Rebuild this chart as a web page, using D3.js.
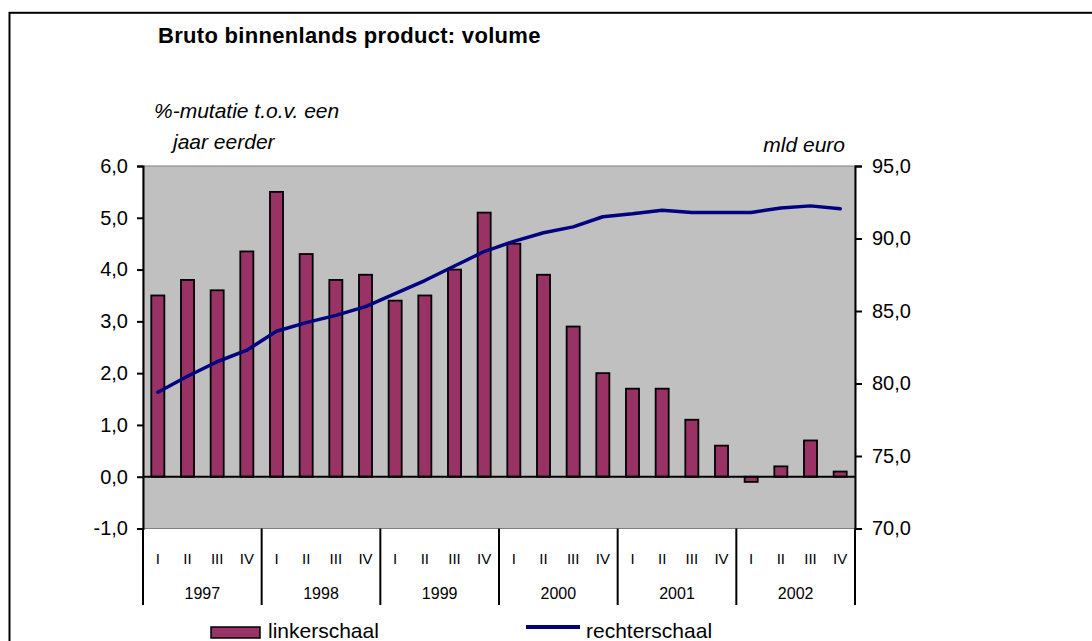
<!DOCTYPE html>
<html>
<head>
<meta charset="utf-8">
<script src="https://cdn.jsdelivr.net/npm/d3@7"></script>
<style>
  body { margin: 0; background: #fff; }
  svg text { font-family: "Liberation Sans", Arial, sans-serif; fill: #000; }
</style>
</head>
<body>
<div id="chart"></div>
<script>
const years = ['1997', '1998', '1999', '2000', '2001', '2002'];
const quarters = ['I', 'II', 'III', 'IV'];

// %-mutatie t.o.v. een jaar eerder (linkerschaal)
const growth = [
    3.5, 3.8, 3.6, 4.35,
    5.5, 4.3, 3.8, 3.9,
    3.4, 3.5, 4.0, 5.1,
    4.5, 3.9, 2.9, 2.0,
    1.7, 1.7, 1.1, 0.6,
    -0.1, 0.2, 0.7, 0.1
];

// mld euro (rechterschaal)
const volume = [
    79.4, 80.5, 81.5, 82.3,
    83.6, 84.2, 84.7, 85.3,
    86.2, 87.1, 88.1, 89.1,
    89.8, 90.4, 90.8, 91.5,
    91.7, 91.95, 91.8, 91.8,
    91.8, 92.1, 92.25, 92.05
];

const leftTicks = [-1, 0, 1, 2, 3, 4, 5, 6];
const rightTicks = [70, 75, 80, 85, 90, 95];

const keys = [];
years.forEach(y => quarters.forEach(q => keys.push(y + '-' + q)));

const W = 1092, H = 641;
const plot = { left: 143, right: 855, top: 166, bottom: 528.5 };

const svg = d3.select("#chart").append("svg")
    .attr("width", W)
    .attr("height", H);

// outer frame
svg.append("rect")
    .attr("x", 9.5)
    .attr("y", 12.8)
    .attr("width", W + 20)
    .attr("height", H + 20)
    .attr("fill", "none")
    .attr("stroke", "#000")
    .attr("stroke-width", 2);

const x = d3.scaleBand()
    .domain(keys)
    .range([plot.left, plot.right])
    .paddingInner(0.56)
    .paddingOuter(0.28);

const yL = d3.scaleLinear().domain([-1, 6]).range([plot.bottom, plot.top]);
const yR = d3.scaleLinear().domain([70, 95]).range([plot.bottom, plot.top]);

// plot area
svg.append("rect")
    .attr("x", plot.left)
    .attr("y", plot.top)
    .attr("width", plot.right - plot.left)
    .attr("height", plot.bottom - plot.top)
    .attr("fill", "#c0c0c0")
    .attr("stroke", "#808080")
    .attr("stroke-width", 1);

// bars
svg.append("g").selectAll("rect")
    .data(growth)
  .enter().append("rect")
    .attr("x", (d, i) => x(keys[i]))
    .attr("width", x.bandwidth())
    .attr("y", d => yL(Math.max(0, d)))
    .attr("height", d => Math.abs(yL(d) - yL(0)))
    .attr("fill", "#993366")
    .attr("stroke", "#000")
    .attr("stroke-width", 1.8);

// zero line
svg.append("line")
    .attr("x1", plot.left).attr("x2", plot.right)
    .attr("y1", yL(0)).attr("y2", yL(0))
    .attr("stroke", "#000")
    .attr("stroke-width", 2);

// volume line
const line = d3.line()
    .x((d, i) => x(keys[i]) + x.bandwidth() / 2)
    .y(d => yR(d));

svg.append("path")
    .datum(volume)
    .attr("d", line)
    .attr("fill", "none")
    .attr("stroke", "#000080")
    .attr("stroke-width", 3.5)
    .attr("stroke-linejoin", "round")
    .attr("stroke-linecap", "round");

// axes, decimal comma and plain hyphen for negatives
const fmt = d3.format(".1f");
const comma = d => fmt(d).replace('.', ',').replace('\u2212', '-');

const axL = svg.append("g")
    .attr("transform", "translate(" + plot.left + ",0)")
    .call(d3.axisLeft(yL).tickValues(leftTicks).tickSize(6).tickPadding(9).tickFormat(comma));

const axR = svg.append("g")
    .attr("transform", "translate(" + plot.right + ",0)")
    .call(d3.axisRight(yR).tickValues(rightTicks).tickSize(7).tickPadding(10).tickFormat(comma));

[axL, axR].forEach(ax => {
    ax.select(".domain").attr("stroke", "#000").attr("stroke-width", 2);
    ax.selectAll(".tick line").attr("stroke", "#000").attr("stroke-width", 2);
    ax.selectAll(".tick text")
        .attr("font-size", 20)
        .attr("font-family", "Liberation Sans, Arial, sans-serif")
        .attr("fill", "#000");
});

// category axis: year separators and labels
const step = x.step();
const sepY2 = 605;
d3.range(years.length + 1).forEach(k => {
    const xs = plot.left + k * 4 * step;
    svg.append("line")
        .attr("x1", xs).attr("x2", xs)
        .attr("y1", plot.bottom).attr("y2", sepY2)
        .attr("stroke", "#000")
        .attr("stroke-width", 2);
});

svg.append("g").selectAll("text")
    .data(keys)
  .enter().append("text")
    .attr("x", d => x(d) + x.bandwidth() / 2)
    .attr("y", 564)
    .attr("text-anchor", "middle")
    .attr("font-size", 15)
    .text(d => d.split('-')[1]);

svg.append("g").selectAll("text")
    .data(years)
  .enter().append("text")
    .attr("x", (d, i) => plot.left + (i * 4 + 2) * step)
    .attr("y", 599)
    .attr("text-anchor", "middle")
    .attr("font-size", 16)
    .text(d => d);

// titles
svg.append("text")
    .attr("x", 158)
    .attr("y", 43)
    .attr("font-size", 22)
    .attr("font-weight", "bold")
    .attr("letter-spacing", 0.3)
    .text("Bruto binnenlands product: volume");

svg.append("text")
    .attr("x", 154)
    .attr("y", 118)
    .attr("font-size", 21)
    .attr("font-style", "italic")
    .text("%-mutatie t.o.v. een");

svg.append("text")
    .attr("x", 173)
    .attr("y", 149)
    .attr("font-size", 21)
    .attr("font-style", "italic")
    .text("jaar eerder");

svg.append("text")
    .attr("x", 845)
    .attr("y", 152)
    .attr("text-anchor", "end")
    .attr("font-size", 21)
    .attr("font-style", "italic")
    .text("mld euro");

// legend
const legend = svg.append("g");
legend.append("rect")
    .attr("x", 211).attr("y", 627)
    .attr("width", 49).attr("height", 11)
    .attr("fill", "#993366")
    .attr("stroke", "#000")
    .attr("stroke-width", 1.5);
legend.append("text")
    .attr("x", 268).attr("y", 638)
    .attr("font-size", 21)
    .text("linkerschaal");
legend.append("line")
    .attr("x1", 526).attr("x2", 580)
    .attr("y1", 627).attr("y2", 627)
    .attr("stroke", "#000080")
    .attr("stroke-width", 4);
legend.append("text")
    .attr("x", 586).attr("y", 638)
    .attr("font-size", 21)
    .text("rechterschaal");
</script>
</body>
</html>
